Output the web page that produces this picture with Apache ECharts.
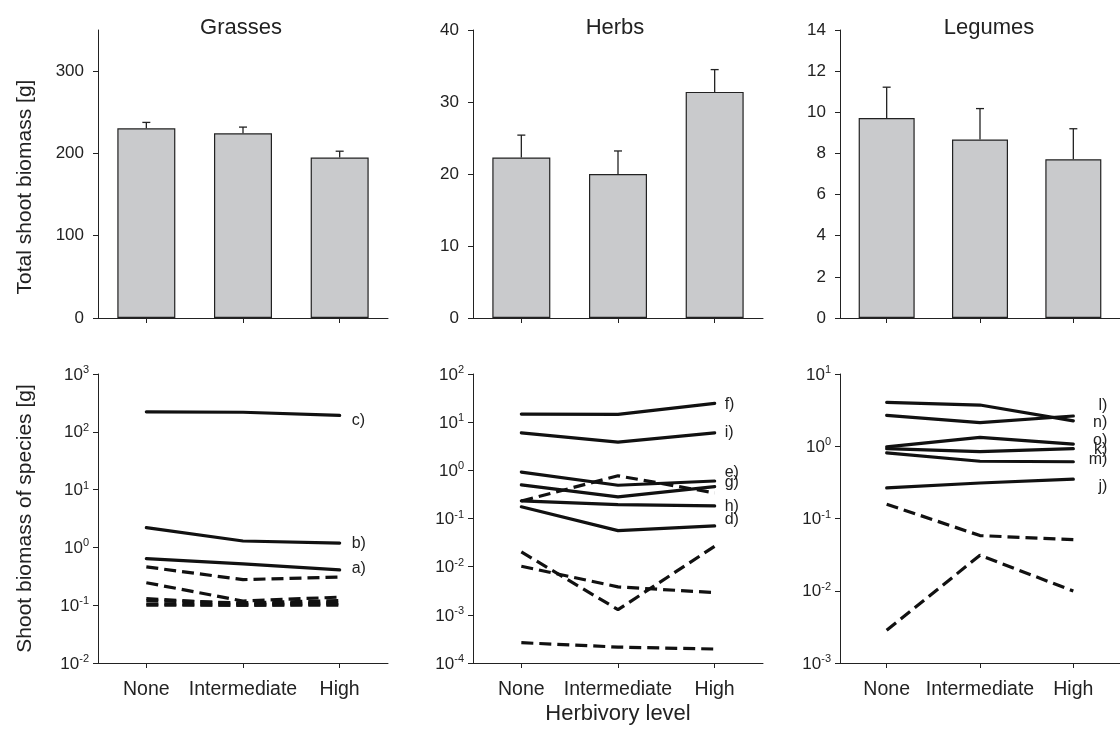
<!DOCTYPE html>
<html>
<head>
<meta charset="utf-8">
<script src="https://cdn.jsdelivr.net/npm/echarts@6/dist/echarts.min.js"></script>
<style>html,body{margin:0;padding:0;background:#fff}#c{width:1120px;height:738px}</style>
</head>
<body>
<div id="c"></div>
<script>
// ---------- data ----------
const categories = ['None', 'Intermediate', 'High'];
const panelTitles = ['Grasses', 'Herbs', 'Legumes'];

const grassesBars = [230.5, 224.4, 195.0];
const grassesErr = [7.2, 7.6, 7.7];
const herbsBars = [22.3, 20.0, 31.4];
const herbsErr = [3.1, 3.2, 3.1];
const legumesBars = [9.72, 8.68, 7.72];
const legumesErr = [1.5, 1.5, 1.48];

const grassesSolid = [[222, 218, 192], [2.2, 1.29, 1.19], [0.64, 0.52, 0.41]];
const grassesSolidLabels = ['c)', 'b)', 'a)'];
const grassesDashed = [[0.46, 0.277, 0.307], [0.245, 0.118, 0.138], [0.13, 0.105, 0.11], [0.12, 0.11, 0.12], [0.105, 0.1, 0.1], [0.1, 0.1, 0.105]];

const herbsSolid = [[14.7, 14.5, 24.5], [6.0, 3.86, 6.0], [0.92, 0.49, 0.6], [0.5, 0.28, 0.46], [0.233, 0.195, 0.183], [0.175, 0.056, 0.07]];
const herbsSolidLabels = ['f)', 'i)', 'e)', 'g)', 'h)', 'd)'];
const herbsDashed = [[0.23, 0.77, 0.34], [0.0202, 0.00128, 0.0265], [0.0102, 0.0038, 0.0029], [0.000264, 0.000214, 0.000195]];

const legumesSolid = [[2.68, 2.12, 2.62], [4.05, 3.72, 2.25], [0.98, 1.33, 1.07], [0.925, 0.84, 0.925], [0.81, 0.62, 0.61], [0.266, 0.31, 0.35]];
const legumesSolidLabels = ['l)', 'n)', 'o)', 'k)', 'm)', 'j)'];
const legumesDashed = [[0.158, 0.058, 0.051], [0.00284, 0.031, 0.0099]];

const grassesLog = [0.01, 1000];
const herbsLog = [0.0001, 100];
const legumesLog = [0.001, 10];

// ---------- style / layout ----------
const FONT = 'Liberation Sans, Arial, Helvetica, sans-serif';
const INK = '#222';
const lefts = [98, 473, 840];
const titleLefts = [236, 610, 984];
const topRowTop = 30, botRowTop = 374, gridW = 290, gridH = 288;

// label placement (style only)
const grassesLabelOffsets = [[12, 5], [12, 1], [12, -1]];
const herbsLabelOffsets = [[10, 1], [10, 0], [10, -8], [10, -4], [10, 1], [10, -6]];
const legumesLabelOffsets = [[34, -10], [34, 2], [34, -3.5], [34, 1], [34, -2], [34, 7.5]];

const grids = [];
lefts.forEach(l => grids.push({left: l, top: topRowTop, width: gridW, height: gridH}));
lefts.forEach(l => grids.push({left: l, top: botRowTop, width: gridW, height: gridH + 1}));

const axisLineStyle = {lineStyle: {color: INK, width: 1}};
const xAxes = [];
for (let i = 0; i < 6; i++) {
  const bottom = i >= 3;
  const ax = {
    type: 'category', gridIndex: i, data: categories, boundaryGap: true,
    axisLine: axisLineStyle,
    axisTick: {show: true, alignWithLabel: true, length: 5, lineStyle: {color: INK}},
    axisLabel: {show: bottom, interval: 0, fontFamily: FONT, fontSize: 19.5, color: INK, margin: 17},
    splitLine: {show: false}
  };
  if (i === 4) {
    ax.name = 'Herbivory level';
    ax.nameLocation = 'middle';
    ax.nameGap = 40;
    ax.nameTextStyle = {fontFamily: FONT, fontSize: 22, color: INK};
  }
  xAxes.push(ax);
}

function powLabel(v) {
  const e = Math.round(Math.log10(v));
  return '{b|10}{s|' + e + '}';
}
const powRich = {
  b: {fontFamily: FONT, fontSize: 17, color: INK, verticalAlign: 'bottom'},
  s: {fontFamily: FONT, fontSize: 11, color: INK, verticalAlign: 'bottom', padding: [0, 0, 8, 0]}
};

const linearSpecs = [
  {min: 0, max: 350, interval: 100, custom: [0, 100, 200, 300]},
  {min: 0, max: 40, interval: 10},
  {min: 0, max: 14, interval: 2}
];
const logSpecs = [grassesLog, herbsLog, legumesLog];

const yAxes = [];
linearSpecs.forEach((s, i) => {
  const ax = {
    type: 'value', gridIndex: i, min: s.min, max: s.max, interval: s.interval,
    axisLine: {show: true, lineStyle: {color: INK, width: 1}},
    axisTick: {show: true, length: 5, lineStyle: {color: INK}},
    axisLabel: {fontFamily: FONT, fontSize: 17, color: INK, margin: 14},
    splitLine: {show: false}
  };
  if (s.custom) {
    ax.axisTick.customValues = s.custom;
    ax.axisLabel.customValues = s.custom;
  }
  if (i === 0) {
    ax.name = 'Total shoot biomass [g]';
    ax.nameLocation = 'middle';
    ax.nameGap = 62;
    ax.nameTextStyle = {fontFamily: FONT, fontSize: 21, color: INK, padding: [0, 26, 0, 0]};
  }
  yAxes.push(ax);
});
logSpecs.forEach((ext, i) => {
  const dec = Math.round(Math.log10(ext[1]) - Math.log10(ext[0]));
  const ax = {
    type: 'log', logBase: 10, gridIndex: 3 + i, min: ext[0], max: ext[1], splitNumber: dec,
    axisLine: {show: true, lineStyle: {color: INK, width: 1}},
    axisTick: {show: true, length: 5, lineStyle: {color: INK}},
    axisLabel: {formatter: powLabel, rich: powRich, margin: 9},
    splitLine: {show: false}, minorTick: {show: false}
  };
  if (i === 0) {
    ax.name = 'Shoot biomass of species [g]';
    ax.nameLocation = 'middle';
    ax.nameGap = 62;
    ax.nameTextStyle = {fontFamily: FONT, fontSize: 21, color: INK};
  }
  yAxes.push(ax);
});

const series = [];
function addBars(idx, vals, errs) {
  series.push({
    type: 'bar', xAxisIndex: idx, yAxisIndex: idx, data: vals, barWidth: '60%',
    itemStyle: {color: '#c9cacc', borderColor: INK, borderWidth: 1.2},
    silent: true, animation: false
  });
  series.push({
    type: 'custom', xAxisIndex: idx, yAxisIndex: idx, z: 5, animation: false, silent: true,
    data: vals.map((v, k) => [k, v, errs[k]]),
    renderItem: function (params, api) {
      const x = api.value(0), v = api.value(1), e = api.value(2);
      const p0 = api.coord([x, v]);
      const p1 = api.coord([x, v + e]);
      return {type: 'group', children: [
        {type: 'line', shape: {x1: p0[0], y1: p0[1], x2: p1[0], y2: p1[1]}, style: {stroke: INK, lineWidth: 1.3}},
        {type: 'line', shape: {x1: p1[0] - 4, y1: p1[1], x2: p1[0] + 4, y2: p1[1]}, style: {stroke: INK, lineWidth: 1.3}}
      ]};
    }
  });
}
addBars(0, grassesBars, grassesErr);
addBars(1, herbsBars, herbsErr);
addBars(2, legumesBars, legumesErr);

function addLines(idx, solid, labels, offsets, dashed, rightAlign) {
  dashed.forEach(d => series.push({
    type: 'line', xAxisIndex: idx, yAxisIndex: idx, data: d, symbol: 'none', animation: false, silent: true,
    lineStyle: {color: '#111', width: 3.2, type: [12, 6], cap: 'butt'}
  }));
  solid.forEach((d, k) => series.push({
    type: 'line', xAxisIndex: idx, yAxisIndex: idx, data: d, symbol: 'none', animation: false, silent: true,
    lineStyle: {color: '#111', width: 3.2, type: 'solid', cap: 'round', join: 'round'},
    endLabel: {
      show: true, formatter: labels[k], position: 'right', distance: 0,
      offset: offsets[k], align: rightAlign ? 'right' : 'left',
      fontFamily: FONT, fontSize: 16, color: INK
    }
  }));
}
addLines(3, grassesSolid, grassesSolidLabels, grassesLabelOffsets, grassesDashed, false);
addLines(4, herbsSolid, herbsSolidLabels, herbsLabelOffsets, herbsDashed, false);
addLines(5, legumesSolid, legumesSolidLabels, legumesLabelOffsets, legumesDashed, true);

const titles = panelTitles.map((t, i) => ({
  text: t, left: titleLefts[i], top: 12, textAlign: 'center',
  textStyle: {fontFamily: FONT, fontSize: 22, fontWeight: 'normal', color: INK}
}));

const chart = echarts.init(document.getElementById('c'), null, {renderer: 'canvas'});
chart.setOption({
  backgroundColor: '#fff',
  animation: false,
  title: titles,
  grid: grids,
  xAxis: xAxes,
  yAxis: yAxes,
  series: series
});
</script>
</body>
</html>
